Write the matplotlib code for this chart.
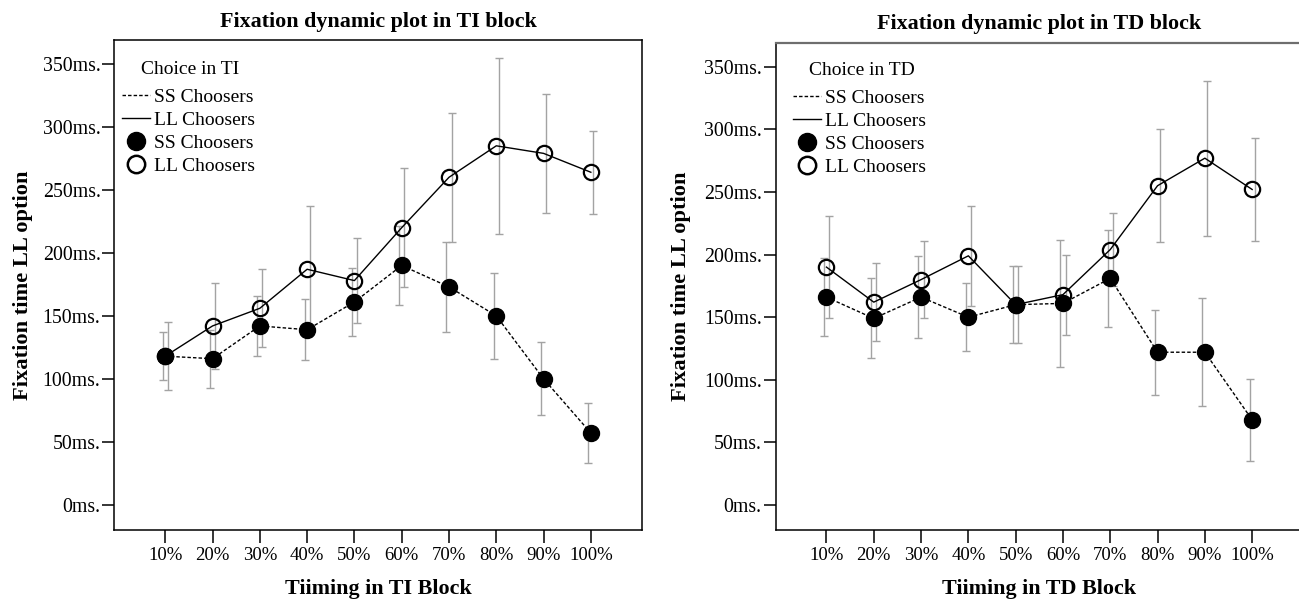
import matplotlib

matplotlib.use("Agg")
import matplotlib.pyplot as plt
import numpy as np
from matplotlib.lines import Line2D

plt.rcParams["font.family"] = ["Liberation Serif", "DejaVu Serif"]

TIMING_LABELS = ["10%", "20%", "30%", "40%", "50%", "60%", "70%", "80%", "90%", "100%"]
Y_TICKS = [0, 50, 100, 150, 200, 250, 300, 350]

# TI block (ms)
TI_SS_MEAN = [118, 116, 142, 139, 161, 190, 173, 150, 100, 57]
TI_SS_ERR = [19, 23, 24, 24, 27, 31, 36, 34, 29, 24]
TI_LL_MEAN = [118, 142, 156, 187, 178, 220, 260, 285, 279, 264]
TI_LL_ERR = [27, 34, 31, 50, 34, 47, 51, 70, 47, 33]

# TD block (ms)
TD_SS_MEAN = [166, 149, 166, 150, 160, 161, 181, 122, 122, 68]
TD_SS_ERR = [31, 32, 33, 27, 31, 51, 39, 34, 43, 33]
TD_LL_MEAN = [190, 162, 180, 199, 160, 168, 204, 255, 277, 252]
TD_LL_ERR = [41, 31, 31, 40, 31, 32, 29, 45, 62, 41]

ERR_COLOR = "#a3a3a3"
DODGE = 0.055
DASH = (0, (2.5, 1.5))


def draw_panel(ax, ss_mean, ss_err, ll_mean, ll_err, block):
    x = np.arange(1, len(TIMING_LABELS) + 1)

    ax.errorbar(x - DODGE, ss_mean, yerr=ss_err, fmt="none", ecolor=ERR_COLOR,
                elinewidth=1.0, capsize=2.7, capthick=1.0, zorder=1)
    ax.errorbar(x + DODGE, ll_mean, yerr=ll_err, fmt="none", ecolor=ERR_COLOR,
                elinewidth=1.0, capsize=2.7, capthick=1.0, zorder=1)

    ax.plot(x, ss_mean, color="black", linestyle=DASH, linewidth=1.0, zorder=2)
    ax.plot(x, ll_mean, color="black", linestyle="-", linewidth=1.0, zorder=2)
    ax.plot(x, ss_mean, linestyle="none", marker="o", markersize=11.5,
            markerfacecolor="black", markeredgecolor="black", zorder=3)
    ax.plot(x, ll_mean, linestyle="none", marker="o", markersize=11,
            markerfacecolor="none", markeredgecolor="black", markeredgewidth=1.6, zorder=3)

    ax.set_xlim(-0.075, 11.075)
    ax.set_ylim(-20, 369)
    ax.set_yticks(Y_TICKS)
    ax.set_yticklabels([f"{v}ms." for v in Y_TICKS])
    ax.set_xticks(x)
    ax.set_xticklabels(TIMING_LABELS)
    ax.tick_params(axis="y", length=9, width=1.1, pad=1, labelsize=14.3)
    ax.tick_params(axis="x", length=9.4, width=1.1, pad=3, labelsize=13.5)

    for side in ["left", "bottom", "top", "right"]:
        ax.spines[side].set_linewidth(1.1)

    ax.set_xlabel(f"Tiiming in {block} Block", fontsize=15.8, fontweight="bold")
    ax.set_ylabel("Fixation time LL option", fontsize=16.2, fontweight="bold")
    ax.xaxis.set_label_coords(0.5, -0.1)

    handles = [
        Line2D([], [], color="black", linestyle=DASH, linewidth=1.0),
        Line2D([], [], color="black", linestyle="-", linewidth=1.0),
        Line2D([], [], linestyle="none", marker="o", markersize=13,
               markerfacecolor="black", markeredgecolor="black"),
        Line2D([], [], linestyle="none", marker="o", markersize=12.5,
               markerfacecolor="none", markeredgecolor="black", markeredgewidth=1.8),
    ]
    labels = ["SS Choosers", "LL Choosers", "SS Choosers", "LL Choosers"]
    return handles, labels


def add_legend(ax, handles, labels, title, title_xy, anchor):
    ax.text(title_xy[0], title_xy[1], title, transform=ax.transAxes,
            ha="center", va="baseline", fontsize=14)
    ax.legend(handles, labels, loc="upper left", bbox_to_anchor=anchor,
              borderaxespad=0, borderpad=0, frameon=False, fontsize=14,
              handlelength=1.42, handletextpad=0.25, labelspacing=0.28)


fig = plt.figure(figsize=(12.99, 6.01), dpi=100)
H = 601.0
W = 1299.0

ax1 = fig.add_axes([114.4 / W, 1 - 530 / H, (641.7 - 114.4) / W, (530 - 40) / H])
ax2 = fig.add_axes([775.6 / W, 1 - 530 / H, (1303 - 775.6) / W, (530 - 43) / H])

h, l = draw_panel(ax1, TI_SS_MEAN, TI_SS_ERR, TI_LL_MEAN, TI_LL_ERR, "TI")
ax1.set_title("Fixation dynamic plot in TI block", fontsize=15.8,
              fontweight="bold", pad=9.6)
ax1.yaxis.set_label_coords(-0.154, 0.5)
add_legend(ax1, h, l, "Choice in TI", (0.1443, 0.930), (0.0144, 0.901))

h, l = draw_panel(ax2, TD_SS_MEAN, TD_SS_ERR, TD_LL_MEAN, TD_LL_ERR, "TD")
ax2.spines["right"].set_visible(False)
ax2.spines["top"].set_color("#6e6e6e")
ax2.spines["top"].set_linewidth(1.6)
ax2.set_title("Fixation dynamic plot in TD block", fontsize=15.8,
              fontweight="bold", pad=10.4)
ax2.yaxis.set_label_coords(-0.160, 0.5)
add_legend(ax2, h, l, "Choice in TD", (0.163, 0.934), (0.033, 0.905))

fig.savefig("out.png", dpi=100)
